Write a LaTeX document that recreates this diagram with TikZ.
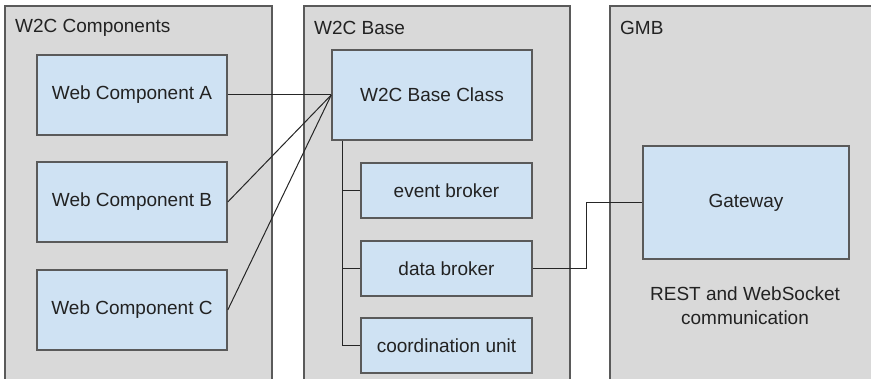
\documentclass[tikz,border=0pt]{standalone}
\usepackage{fontspec}
\setmainfont{Liberation Sans}
\usepackage{tikz}
\usetikzlibrary{positioning}
\definecolor{panelgrey}{HTML}{D9D9D9}
\definecolor{boxblue}{HTML}{CFE2F3}
\definecolor{edgegrey}{HTML}{5A5A5A}
\definecolor{txt}{HTML}{222222}
\newcommand{\bigfont}{\fontsize{19}{23}\selectfont}

\begin{document}
\begin{tikzpicture}[x=1pt,y=-1pt,
  panel/.style={fill=panelgrey},
  paneledge/.style={draw=edgegrey,line width=1.5pt},
  comp/.style={draw=edgegrey,fill=boxblue,line width=1.5pt,text=txt,font=\bigfont,inner sep=0pt},
  title/.style={anchor=west,text=txt,font=\bigfont,inner sep=0pt},
  link/.style={draw=black!85,line width=1pt}]

\useasboundingbox (0,0) rectangle (871,379);


% panels (open at the bottom)
\fill[panel] (5,6) rectangle (272,379);
\draw[paneledge] (5,379) -- (5,6) -- (272,6) -- (272,379);
\fill[panel] (304,6) rectangle (570,379);
\draw[paneledge] (304,379) -- (304,6) -- (570,6) -- (570,379);
\fill[panel] (610,6) rectangle (875,379);
\draw[paneledge] (610,379) -- (610,6) -- (875,6);

\node[title] (t1) at (15,28) {W2C Components};
\node[title] (t2) at (314,28) {W2C Base};
\node[title] (t3) at (620,28) {GMB};


% W2C Components
\node[comp,minimum width=190pt,minimum height=80pt] (wcA) at (132,95) {Web Component A};
\node[comp,minimum width=190pt,minimum height=80pt] (wcB) at (132,202) {Web Component B};
\node[comp,minimum width=190pt,minimum height=80pt] (wcC) at (132,310) {Web Component C};


% W2C Base
\node[comp,minimum width=200pt,minimum height=90pt] (base) at (432,95) {W2C Base Class};
\node[comp,minimum width=171pt,minimum height=55pt] (event) at (446.5,190.5) {event broker};
\node[comp,minimum width=171pt,minimum height=55pt] (data) at (446.5,268.5) {data broker};
\node[comp,minimum width=171pt,minimum height=55pt] (coord) at (446.5,345.5) {coordination unit};


% GMB
\node[comp,minimum width=206pt,minimum height=113pt] (gw) at (746,202.5) {Gateway};
\node[text=txt,font=\bigfont,align=center,inner sep=0pt] (rest) at (745,305.5)
{REST and WebSocket\\[1pt]communication};


\coordinate (trunk) at (342,0);
\coordinate (bend) at (586,0);

\draw[link] (wcA.east)--(base.west);
\draw[link] (wcB.east)--(base.west);
\draw[link] (wcC.east)--(base.west);

\draw[link] (base.south -| trunk) |- (coord.west);
\draw[link] (event.west -| trunk)--(event.west);
\draw[link] (data.west -| trunk)--(data.west);

\draw[link] (data.east)--(data.east -| bend) |- (gw.west);

\end{tikzpicture}
\end{document}
